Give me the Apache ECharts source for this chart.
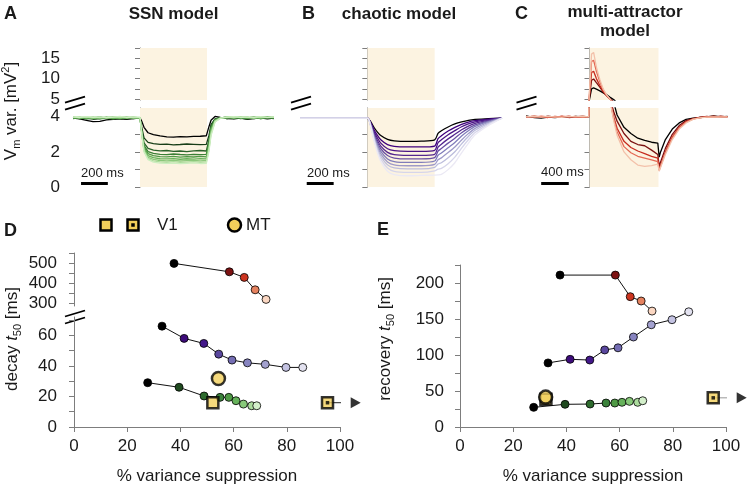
<!DOCTYPE html>
<html><head><meta charset="utf-8">
<script src="https://cdn.jsdelivr.net/npm/echarts@6/dist/echarts.min.js"></script>
<style>html,body{margin:0;padding:0;background:#fff}#c{width:747px;height:484px}</style>
</head><body><div id="c"></div>
<script>
// ================= DATA =================
// Panel A: SSN model, Vm variance traces (black first, then greens dark->light)
const ssnTime = [-500,-450,-400,-350,-300,-250,-200,-150,-100,-50,0,15,30,60,100,150,200,250,300,350,400,450,495,515,530,560,600,650,700,750,800,850,900,950,1000];
const ssnTraces = [
  [3.92,3.88,3.80,3.72,3.74,3.82,3.86,3.88,3.86,3.90,3.95, 3.71,3.40,3.09,2.98,2.91,2.86,2.84,2.87,2.86,2.88,2.89,2.92, 3.45,3.80,4.02,3.96,3.90,3.88,3.92,3.86,3.90,3.94,3.88,3.92],
  [3.95,3.90,3.93,3.86,3.90,3.96,3.88,3.92,3.97,3.90,3.93, 3.32,2.80,2.54,2.47,2.43,2.44,2.40,2.42,2.45,2.43,2.41,2.43, 2.95,3.55,3.88,3.95,3.90,3.96,3.90,3.94,3.98,3.90,3.94,3.90],
  [3.90,3.95,3.88,3.92,3.98,3.90,3.93,3.88,3.94,3.96,3.90, 3.17,2.52,2.20,2.10,2.06,2.08,2.03,2.05,2.02,2.06,2.08,2.05, 2.70,3.45,3.86,3.93,3.98,3.90,3.94,3.98,3.90,3.95,3.98,3.93],
  [3.98,3.90,3.94,3.97,3.88,3.93,3.98,3.94,3.90,3.95,3.92, 3.09,2.37,2.02,1.91,1.86,1.84,1.88,1.85,1.83,1.86,1.84,1.86, 2.58,3.41,3.84,3.95,3.92,3.97,3.92,3.88,3.95,3.98,3.92,3.96],
  [3.93,3.97,3.90,3.95,3.99,3.92,3.88,3.95,3.98,3.92,3.94, 3.04,2.27,1.90,1.79,1.73,1.72,1.75,1.70,1.73,1.71,1.74,1.72, 2.45,3.32,3.82,3.94,3.98,3.93,3.97,3.92,3.96,3.90,3.96,3.94],
  [3.96,3.92,3.97,3.90,3.94,3.98,3.93,3.90,3.95,3.98,3.93, 2.99,2.18,1.79,1.67,1.61,1.60,1.62,1.58,1.61,1.59,1.62,1.60, 2.35,3.22,3.80,3.93,3.96,3.99,3.94,3.97,3.92,3.96,4.00,3.95],
  [3.99,3.94,3.98,3.93,3.97,3.91,3.96,3.99,3.93,3.97,3.95, 2.95,2.10,1.69,1.57,1.51,1.49,1.52,1.48,1.50,1.52,1.49,1.51, 2.25,3.12,3.77,3.93,3.97,3.94,3.99,3.95,4.00,3.94,3.97,4.00],
  [3.97,4.00,3.95,3.99,3.94,3.98,4.00,3.95,3.99,3.94,3.97, 2.92,2.05,1.62,1.49,1.43,1.41,1.44,1.40,1.42,1.44,1.41,1.43, 2.15,3.02,3.74,3.92,3.99,3.96,4.00,3.97,3.93,3.99,3.95,3.98],
  [4.00,3.96,4.01,3.97,4.00,3.95,3.98,4.02,3.96,3.99,3.97, 2.89,2.00,1.56,1.42,1.36,1.34,1.36,1.33,1.35,1.37,1.34,1.35, 2.05,2.92,3.70,3.91,3.98,4.01,3.96,4.00,3.97,4.01,3.97,4.00]
];
// Panel B: chaotic model
const chaoticTime = [-500,0,25,50,75,100,150,200,300,400,500,525,550,600,650,700,750,800,900,1000];
const chaoticTraces = [
  [3.92,3.92,3.72,3.39,3.13,2.93,2.71,2.63,2.60,2.61,2.68,3.05,3.20,3.42,3.59,3.71,3.80,3.85,3.90,3.92],
  [3.92,3.92,3.67,3.26,2.94,2.69,2.41,2.31,2.28,2.28,2.33,2.75,2.92,3.19,3.40,3.57,3.70,3.78,3.87,3.92],
  [3.92,3.92,3.64,3.16,2.79,2.50,2.18,2.07,2.03,2.03,2.09,2.52,2.69,2.98,3.21,3.43,3.59,3.71,3.84,3.92],
  [3.92,3.92,3.60,3.07,2.65,2.33,1.97,1.84,1.80,1.80,1.86,2.27,2.44,2.74,3.00,3.26,3.47,3.63,3.80,3.92],
  [3.92,3.92,3.57,2.99,2.53,2.18,1.79,1.65,1.60,1.60,1.67,2.05,2.19,2.50,2.78,3.09,3.34,3.54,3.77,3.92],
  [3.92,3.92,3.54,2.91,2.41,2.03,1.60,1.45,1.40,1.40,1.48,1.81,1.94,2.24,2.54,2.90,3.20,3.45,3.72,3.92],
  [3.92,3.92,3.51,2.84,2.29,1.89,1.43,1.26,1.21,1.21,1.29,1.55,1.66,1.96,2.28,2.68,3.04,3.34,3.68,3.92],
  [3.92,3.92,3.49,2.76,2.19,1.75,1.26,1.09,1.03,1.03,1.12,1.31,1.38,1.67,2.01,2.46,2.88,3.23,3.62,3.92],
  [3.92,3.92,3.46,2.68,2.07,1.60,1.08,0.89,0.83,0.83,0.92,1.02,1.06,1.33,1.70,2.21,2.69,3.10,3.57,3.92],
  [3.92,3.92,3.43,2.61,1.95,1.46,0.90,0.71,0.64,0.66,0.68,0.69,0.72,0.99,1.38,1.95,2.49,2.97,3.51,3.92]
];
// Panel C: multi-attractor model
const multiTime = [-920,-800,-700,-600,-500,-400,-300,-200,-100,-10,0,30,60,100,150,200,250,300,350,400,500,600,700,800,900,990,1010,1030,1100,1200,1300,1400,1500,1600,1700,1800,1900,2000];
const multiTraces = [
  [4.05,3.95,3.92,3.98,3.96,4.00,3.97,4.02,3.99,4.02,4.05, 7.5,7.7,7.4,7.0,6.5,6.0,5.4,4.85,4.1, 3.4,3.05,2.78,2.65,2.55,2.5, 1.7,2.0,2.7, 3.3,3.65,3.85,3.92,3.96,4.0,4.05,4.0,4.02],
  [4.00,4.02,3.97,4.03,3.98,4.02,3.96,4.00,4.03,3.98,4.00, 9.6,9.9,9.0,7.9,6.7,5.8,5.0,4.3,3.75, 3.05,2.6,2.42,2.35,2.1,1.85, 1.2,1.3,2.2, 3.0,3.5,3.78,3.9,3.97,4.02,3.98,4.03,4.0],
  [3.98,4.03,4.00,3.96,4.02,3.98,4.03,3.97,4.00,4.02,4.02, 11.5,11.8,10.0,8.3,6.8,5.8,4.9,4.0,3.35, 2.6,2.25,2.05,1.9,1.75,1.65, 1.0,1.1,2.0, 2.85,3.4,3.72,3.88,3.96,4.0,4.03,3.98,4.01],
  [4.02,3.98,4.03,4.00,3.97,4.03,4.00,4.02,3.97,4.00,4.00, 14.2,14.5,11.8,9.2,7.2,5.9,4.9,3.9,3.15, 2.3,1.95,1.75,1.65,1.55,1.45, 0.95,1.05,1.95, 2.8,3.35,3.7,3.87,3.95,4.0,3.97,4.02,4.0],
  [4.00,4.03,3.98,4.02,4.00,3.97,4.02,3.99,4.03,4.00,4.02, 16.0,16.4,12.8,9.8,7.4,6.0,4.9,3.8,2.95, 2.0,1.55,1.25,1.18,1.22,1.3, 0.9,1.0,1.85, 2.7,3.3,3.65,3.85,3.94,3.98,4.0,3.98,4.0]
];
const ssnStim = [0, 500], chaoticStim = [0, 500], multiStim = [0, 1000];
const ssnBar = [-440, -240], chaoticBar = [-450, -250], multiBar = [-700, -300];
const ssnBarLabel = '200 ms', chaoticBarLabel = '200 ms', multiBarLabel = '400 ms';

// Panels D/E: % variance suppression vs decay / recovery t50
const greenX = [27.7, 39.5, 48.9, 54.9, 58.2, 60.9, 63.7, 66.8, 68.7];
const greenDecay = [29, 26, 20.3, 19.4, 19.4, 17.2, 15, 13.9, 13.9];
const greenRecovery = [27.3, 31.5, 31.9, 33.3, 33.3, 34.3, 35.6, 34.3, 36.5];
const purpleX = [33.1, 41.4, 48.8, 54.4, 59.4, 65.2, 71.9, 79.7, 86.0];
const purpleDecay = [66, 58, 54.7, 47.7, 43.8, 42, 41, 39, 39];
const purpleRecovery = [89, 94, 93, 107, 110, 125, 142, 149, 160];
const redX = [37.6, 58.4, 64.0, 68.1, 72.2];
const redDecay = [498, 456, 428, 366, 318];
const redRecovery = [211, 211, 181, 175, 161];
const v1D = [52.2, 15.9], v1DotD = [95.3, 15.9], mtD = [54.3, 31.8];
const v1E = [32.3, 38.5], v1DotE = [95.2, 40.5], mtE = [32.2, 41.5];
const arrowEnd = 105.9;

// tick values
const upperTicks = [5, 7.5, 10, 12.5, 15, 17.5], upperLabels = [5, 10, 15];
const lowerTicks = [0, 1, 2, 3, 4], lowerLabels = [0, 2, 4];
const decayUpTicks = [300, 350, 400, 450, 500, 550], decayUpLabels = [300, 400, 500];
const decayLowTicks = [0, 10, 20, 30, 40, 50, 60, 70], decayLowLabels = [0, 20, 40, 60];
const recTicks = [0, 25, 50, 75, 100, 125, 150, 175, 200, 225], recLabels = [0, 50, 100, 150, 200];
const xTicks = [0, 20, 40, 60, 80, 100];

// ================= STYLE =================
const FONT = '"Liberation Sans", Arial, Helvetica, sans-serif';
const AX = '#7d7d7d', TXT = '#1a1a1a', SHADE = '#fcf3e1', YEL = '#f2cf5b';
const ssnColors = ['#000000','#173d17','#2a622a','#3a7f35','#4f9a45','#68b35a','#8ac77a','#acdc9c','#cdeec0'];
const chaoticColors = ['#000000','#3f007d','#4a1486','#54278f','#6a51a3','#807dba','#9e9ac8','#bcbddc','#d6d5ea','#ebe9f4'];
const multiColors = ['#000000','#7a1010','#c62b1e','#e46a55','#f3c1aa'];
const greenPts = ['#000000','#1f4a1f','#2e6b2e','#3b833b','#4f9a45','#66b25b','#88c97a','#acdc9e','#d3efca'];
const purplePts = ['#000000','#3d0c7a','#43188a','#5a479e','#746db3','#8784c0','#a3a1cf','#c4c3e2','#e3e2f0'];
const redPts = ['#000000','#7d1212','#cc3520','#e5825f','#fbd7c2'];

const grids = [
  {left:73, top:48, width:201, height:52},
  {left:73, top:108, width:201, height:79},
  {left:300, top:48, width:202, height:52},
  {left:300, top:108, width:202, height:79},
  {left:526, top:48, width:201.5, height:52},
  {left:526, top:108, width:201.5, height:79},
  {left:74, top:253, width:266, height:53},
  {left:74, top:317, width:266, height:110},
  {left:460, top:265, width:266, height:162}
].map(g => Object.assign({outerBoundsMode:'none', containLabel:false}, g));

function yAx(grid, min, max, ticks, labels, show, margin) {
  return {type:'value', gridIndex:grid, min:min, max:max,
    axisLine:{show:true, lineStyle:{color:AX, width:1}},
    axisTick:{show:true, length:5, customValues:ticks, lineStyle:{color:AX, width:1}},
    axisLabel:{show:show, customValues:labels, margin:margin, color:TXT, fontSize:17, fontFamily:FONT},
    splitLine:{show:false}};
}
function xHidden(grid, min, max) {
  return {type:'value', gridIndex:grid, min:min, max:max, show:false, splitLine:{show:false}};
}
function xShown(grid) {
  return {type:'value', gridIndex:grid, min:0, max:100,
    axisLine:{show:true, onZero:false, lineStyle:{color:AX, width:1}},
    axisTick:{show:true, length:5, customValues:xTicks, lineStyle:{color:AX}},
    axisLabel:{customValues:xTicks, margin:11, color:TXT, fontSize:17, fontFamily:FONT},
    splitLine:{show:false},
    name:'% variance suppression', nameLocation:'middle', nameGap:41,
    nameTextStyle:{color:TXT, fontSize:17, fontFamily:FONT}};
}

const xAxis = [
  xHidden(0,-500,1000), xHidden(1,-500,1000),
  xHidden(2,-500,1000), xHidden(3,-500,1000),
  xHidden(4,-920,2000), xHidden(5,-920,2000),
  xHidden(6,0,100), xShown(7), xShown(8)
];
const yAxis = [
  yAx(0,4.75,17.5,upperTicks,upperLabels,true,13), yAx(1,0,4.5,lowerTicks,lowerLabels,true,13),
  yAx(2,4.75,17.5,upperTicks,upperLabels,false,13), yAx(3,0,4.5,lowerTicks,lowerLabels,false,13),
  yAx(4,4.75,17.5,upperTicks,upperLabels,false,13), yAx(5,0,4.5,lowerTicks,lowerLabels,false,13),
  yAx(6,285,550,decayUpTicks,decayUpLabels,true,17), yAx(7,0,72,decayLowTicks,decayLowLabels,true,17),
  yAx(8,0,225,recTicks,recLabels,true,16)
];

const series = [];
function modelPanel(gUp, gLow, time, traces, colors, stim, bar, smooth) {
  [gUp, gLow].forEach(g => series.push({type:'line', xAxisIndex:g, yAxisIndex:g, data:[], silent:true,
    markArea:{silent:true, itemStyle:{color:SHADE}, data:[[{xAxis:stim[0]},{xAxis:stim[1]}]]}}));
  // black drawn first, lightest last (on top)
  for (let i = 0; i < traces.length; i++) {
    const d = time.map((t, k) => [t, traces[i][k]]);
    [gUp, gLow].forEach(g => series.push({type:'line', xAxisIndex:g, yAxisIndex:g, data:d,
      symbol:'none', smooth:smooth, silent:true, z:3 + i * 0.01,
      lineStyle:{color:colors[i], width:1.3}}));
  }
  series.push({type:'line', xAxisIndex:gLow, yAxisIndex:gLow, data:[[bar[0],0.2],[bar[1],0.2]],
    symbol:'none', silent:true, z:5, lineStyle:{color:'#000', width:3}});
}
modelPanel(0, 1, ssnTime, ssnTraces, ssnColors, ssnStim, ssnBar, false);
modelPanel(2, 3, chaoticTime, chaoticTraces, chaoticColors, chaoticStim, chaoticBar, 0.25);
modelPanel(4, 5, multiTime, multiTraces, multiColors, multiStim, multiBar, false);

function pts(ax, xs, ys, cols) {
  return {type:'line', xAxisIndex:ax, yAxisIndex:ax, silent:true, clip:false, z:4,
    data: xs.map((x, k) => ({value:[x, ys[k]], itemStyle:{color:cols[k]}})),
    symbol:'circle', symbolSize:8, lineStyle:{color:'#111', width:1},
    itemStyle:{borderColor:'#000', borderWidth:0.8}};
}
series.push(pts(6, redX, redDecay, redPts));
series.push(pts(7, purpleX, purpleDecay, purplePts));
series.push(pts(7, greenX, greenDecay, greenPts));
series.push(pts(8, redX, redRecovery, redPts));
series.push(pts(8, purpleX, purpleRecovery, purplePts));
series.push(pts(8, greenX, greenRecovery, greenPts));

function markers(ax, v1, v1dot, mt, arrowColor) {
  series.push({type:'line', xAxisIndex:ax, yAxisIndex:ax, silent:true, clip:false, z:5,
    data:[[v1dot[0], v1dot[1]], [arrowEnd - 2, v1dot[1]]], symbol:'none', lineStyle:{color:arrowColor, width:1}});
  series.push({type:'scatter', xAxisIndex:ax, yAxisIndex:ax, silent:true, clip:false, z:6,
    data:[[arrowEnd, v1dot[1]]], symbol:'triangle', symbolSize:[11,10], symbolRotate:-90, itemStyle:{color:'#000'}});
  series.push({type:'scatter', xAxisIndex:ax, yAxisIndex:ax, silent:true, clip:false, z:6,
    data:[v1, v1dot], symbol:'rect', symbolSize:11, itemStyle:{color:YEL, borderColor:'#000', borderWidth:2.5}});
  series.push({type:'scatter', xAxisIndex:ax, yAxisIndex:ax, silent:true, clip:false, z:7,
    data:[v1dot], symbol:'rect', symbolSize:3.5, itemStyle:{color:'#000'}});
  series.push({type:'scatter', xAxisIndex:ax, yAxisIndex:ax, silent:true, clip:false, z:7,
    data:[mt], symbol:'circle', symbolSize:13, itemStyle:{color:YEL, borderColor:'#000', borderWidth:2.5}});
}
markers(7, v1D, v1DotD, mtD, '#222');
markers(8, v1E, v1DotE, mtE, '#999');

// ================= GRAPHIC (texts, breaks, legend) =================
function txt(x, y, text, size, weight, align) {
  return {type:'text', x:x, y:y, silent:true, style:{text:text, fontSize:size, fontWeight:weight||'normal',
    fontFamily:FONT, fill:TXT, align:align||'left', verticalAlign:'middle'}};
}
function brk(x0, y0) {
  return [
    {type:'line', silent:true, shape:{x1:x0, y1:y0+6, x2:x0+20, y2:y0}, style:{stroke:'#000', lineWidth:1.8}},
    {type:'line', silent:true, shape:{x1:x0, y1:y0+13, x2:x0+20, y2:y0+7}, style:{stroke:'#000', lineWidth:1.8}}
  ];
}
const richBase = {
  n:{fontSize:17, fontFamily:FONT, fill:TXT, color:TXT, lineHeight:22},
  i:{fontSize:17, fontFamily:FONT, fill:TXT, color:TXT, lineHeight:22, fontStyle:'italic'},
  s:{fontSize:11, fontFamily:FONT, fill:TXT, color:TXT, lineHeight:11, verticalAlign:'bottom'},
  p:{fontSize:11, fontFamily:FONT, fill:TXT, color:TXT, lineHeight:11, verticalAlign:'top'}
};
function vlabel(x, y, text) {
  return {type:'text', x:x, y:y, rotation:Math.PI/2, silent:true,
    style:{text:text, rich:richBase, align:'center', verticalAlign:'middle'}};
}
const graphic = [
  txt(4, 14, 'A', 18, 'bold'), txt(173.5, 14, 'SSN model', 17, 'bold', 'center'),
  txt(302, 14, 'B', 18, 'bold'), txt(399, 14, 'chaotic model', 17, 'bold', 'center'),
  txt(515, 14, 'C', 18, 'bold'), txt(625, 12.5, 'multi-attractor', 17, 'bold', 'center'),
  txt(625, 31, 'model', 17, 'bold', 'center'),
  txt(4, 231, 'D', 18, 'bold'), txt(377, 230, 'E', 18, 'bold'),
  txt(81, 173, ssnBarLabel, 13), txt(307, 173, chaoticBarLabel, 13), txt(541, 172, multiBarLabel, 13),
  vlabel(11, 111, '{n|V}{s|m}{n| var. [mV}{p|2}{n|]}'),
  vlabel(12, 339, '{n|decay }{i|t}{s|50}{n| [ms]}'),
  vlabel(385, 339, '{n|recovery }{i|t}{s|50}{n| [ms]}'),
  // legend
  {type:'rect', silent:true, shape:{x:100.5, y:219.5, width:11, height:11}, style:{fill:YEL, stroke:'#000', lineWidth:2.5}},
  {type:'rect', silent:true, shape:{x:127.5, y:219.5, width:11, height:11}, style:{fill:YEL, stroke:'#000', lineWidth:2.5}},
  {type:'rect', silent:true, shape:{x:131.25, y:223.25, width:3.5, height:3.5}, style:{fill:'#000'}},
  txt(157, 225, 'V1', 17),
  {type:'circle', silent:true, shape:{cx:234.5, cy:225, r:6.5}, style:{fill:YEL, stroke:'#000', lineWidth:2.5}},
  txt(246, 225, 'MT', 17)
].concat(brk(65, 96.7), brk(291, 96.7), brk(516.5, 96.7), brk(65, 310.5));

const chart = echarts.init(document.getElementById('c'), null, {renderer:'canvas'});
chart.setOption({animation:false, backgroundColor:'#fff', grid:grids, xAxis:xAxis, yAxis:yAxis, series:series, graphic:graphic});
</script></body></html>
